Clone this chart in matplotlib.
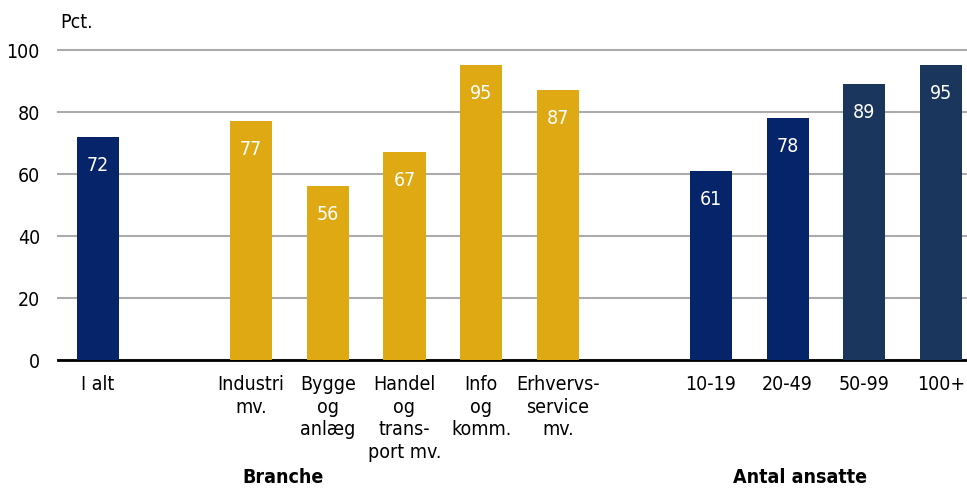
import numpy as np
import matplotlib.pyplot as plt

# data
labels = ["I alt", "Industri\nmv.", "Bygge\nog\nanlæg", "Handel\nog\ntrans-\nport mv.",
          "Info\nog\nkomm.", "Erhvervs-\nservice\nmv.", "10-19", "20-49", "50-99", "100+"]
values = [72, 77, 56, 67, 95, 87, 61, 78, 89, 95]
slots = [0, 2, 3, 4, 5, 6, 8, 9, 10, 11]
navy = "#062469"
gold = "#DEA913"
slate = "#1B365D"
colors = [navy, gold, gold, gold, gold, gold, navy, navy, slate, slate]

plt.rcParams['font.family'] = ['DejaVu Sans']
plt.rcParams['font.stretch'] = 'condensed'

fig = plt.figure(figsize=(9.67, 4.89), dpi=100)
ax = fig.add_axes([0.06, 0.262, 0.94, 0.634])

bars = ax.bar(slots, values, width=0.55, color=colors, zorder=3)
for x, v in zip(slots, values):
    ax.text(x, v - 5.8, str(v), ha='center', va='top', color='white', fontsize=14, zorder=4)

ax.set_xlim(-0.52, 11.34)
ax.set_ylim(0, 100)
ax.set_yticks(range(0, 101, 20))
ax.yaxis.grid(True, color='#ababab', linewidth=1.5, zorder=0)
for gl in ax.get_ygridlines():
    gl.set_clip_on(False)
ax.set_axisbelow(True)
for s in ['top', 'right', 'left']:
    ax.spines[s].set_visible(False)
ax.spines['bottom'].set_linewidth(2)
ax.spines['bottom'].set_color('black')
ax.tick_params(axis='y', length=0, labelsize=14, pad=13)
ax.tick_params(axis='x', length=0, labelsize=14, pad=10)
ax.set_xticks(slots)
ax.set_xticklabels(labels, linespacing=1.25)

fig.text(0.062, 0.955, "Pct.", fontsize=14, ha='left', va='center')
fig.text(283 / 967, 1 - 478 / 489, "Branche", fontsize=14, fontweight='bold', ha='center', va='center')
fig.text(800 / 967, 1 - 478 / 489, "Antal ansatte", fontsize=14, fontweight='bold', ha='center', va='center')

fig.savefig("out.png", dpi=100)
